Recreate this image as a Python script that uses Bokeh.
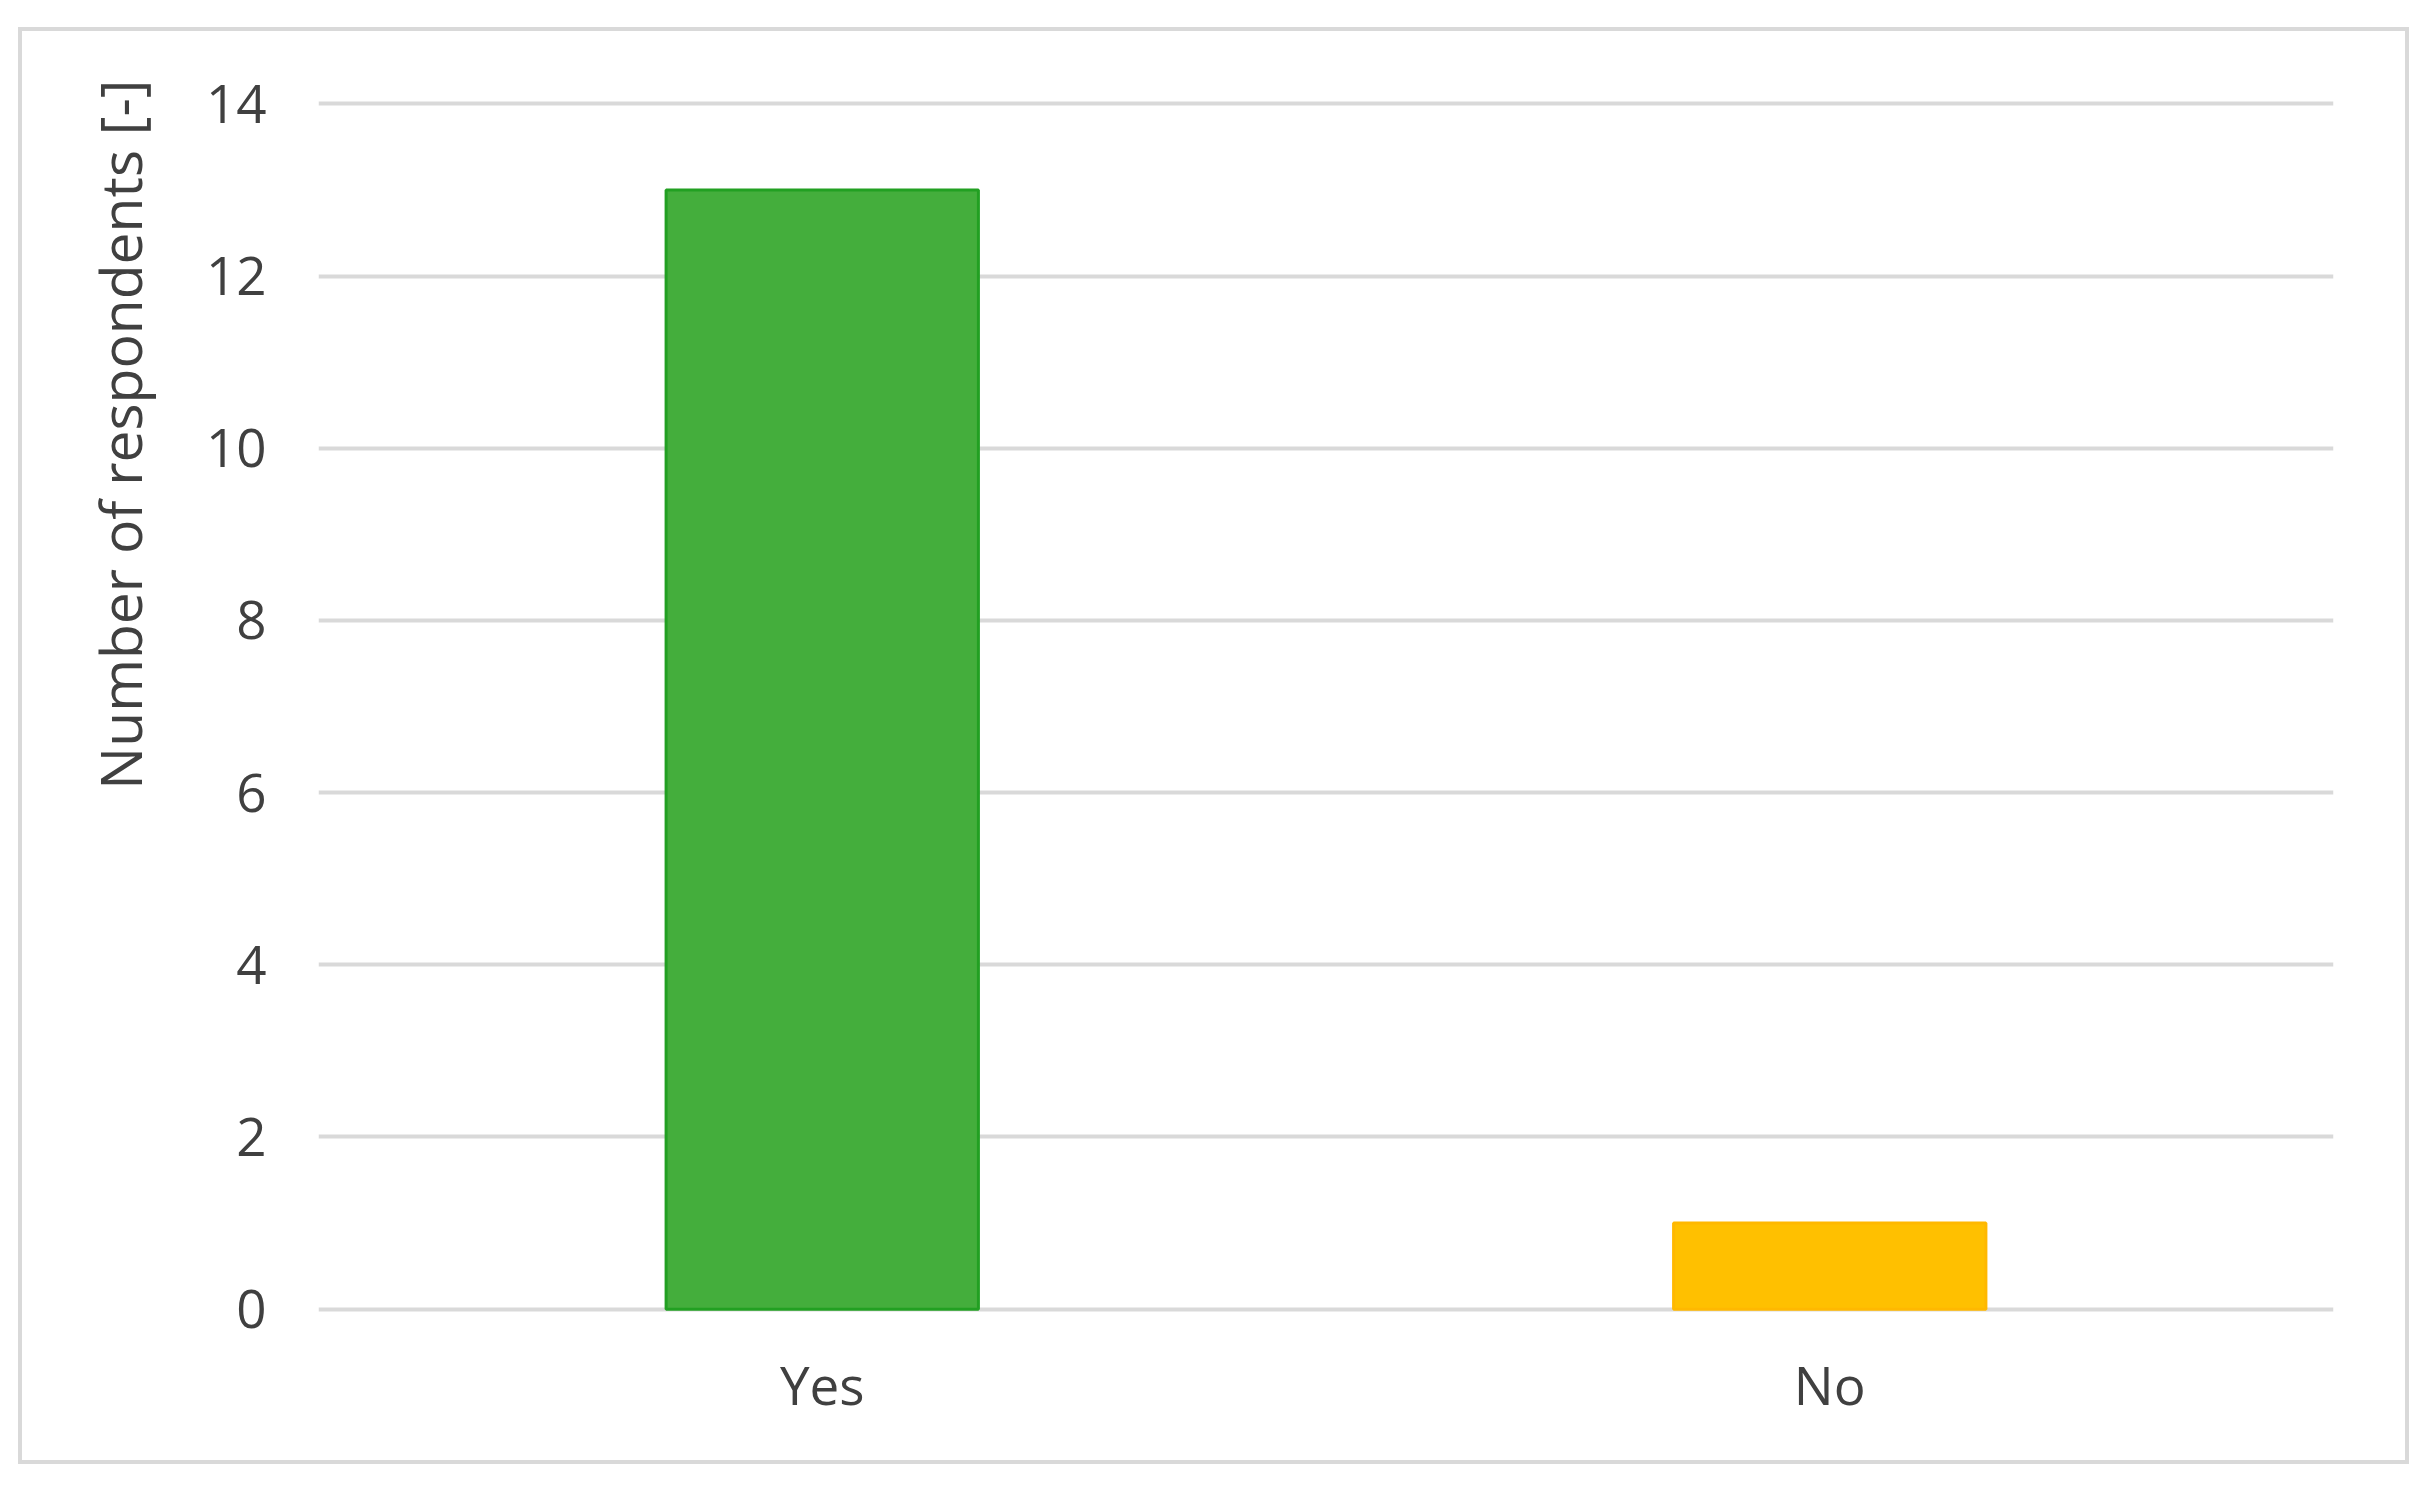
from bokeh.plotting import figure
from bokeh.models import Range1d, FactorRange, FixedTicker, Title
from bokeh.embed import file_html
from bokeh.resources import INLINE

categories = ["Yes", "No"]
counts = [13, 1]
fill_colors = ["#44ae3c", "#ffc000"]
line_colors = ["#22a022", "#ffb800"]
y_ticks = [0, 2, 4, 6, 8, 10, 12, 14]
y_label = "Number of respondents [-]"

FONT = "Open Sans"
TEXT = "#404040"

p = figure(
    x_range=FactorRange(*categories, range_padding=0),
    y_range=Range1d(-0.05, 14.05),
    width=2391, height=1437,
    output_backend="svg", toolbar_location=None,
    min_border_left=296, min_border_right=80,
    min_border_top=68, min_border_bottom=155,
    styles={"border": "4px solid #d9d9d9", "position": "absolute",
            "left": "18px", "top": "27px"},
)

p.vbar(x=categories, top=counts, width=0.31, bottom=0,
       fill_color=fill_colors, line_color=line_colors, line_width=3)

p.outline_line_color = None
p.background_fill_color = "white"
p.border_fill_color = "white"

p.xgrid.grid_line_color = None
p.ygrid.grid_line_color = "#d9d9d9"
p.ygrid.grid_line_width = 4
p.ygrid.level = "underlay"
p.yaxis.ticker = FixedTicker(ticks=y_ticks)

for ax in (p.xaxis, p.yaxis):
    ax.axis_line_color = None
    ax.major_tick_line_color = None
    ax.minor_tick_line_color = None
    ax.major_tick_out = 0
    ax.major_tick_in = 0
    ax.major_label_text_font = FONT
    ax.major_label_text_font_size = "53px"
    ax.major_label_text_color = TEXT

p.yaxis.major_label_standoff = 52
p.xaxis.major_label_standoff = 34

p.add_layout(Title(
    text=y_label, align="right", standoff=88, offset=-20,
    text_font=FONT, text_font_size="57px", text_font_style="normal",
    text_color=TEXT,
), "left")

open("out.html", "w").write(file_html(p, INLINE))
